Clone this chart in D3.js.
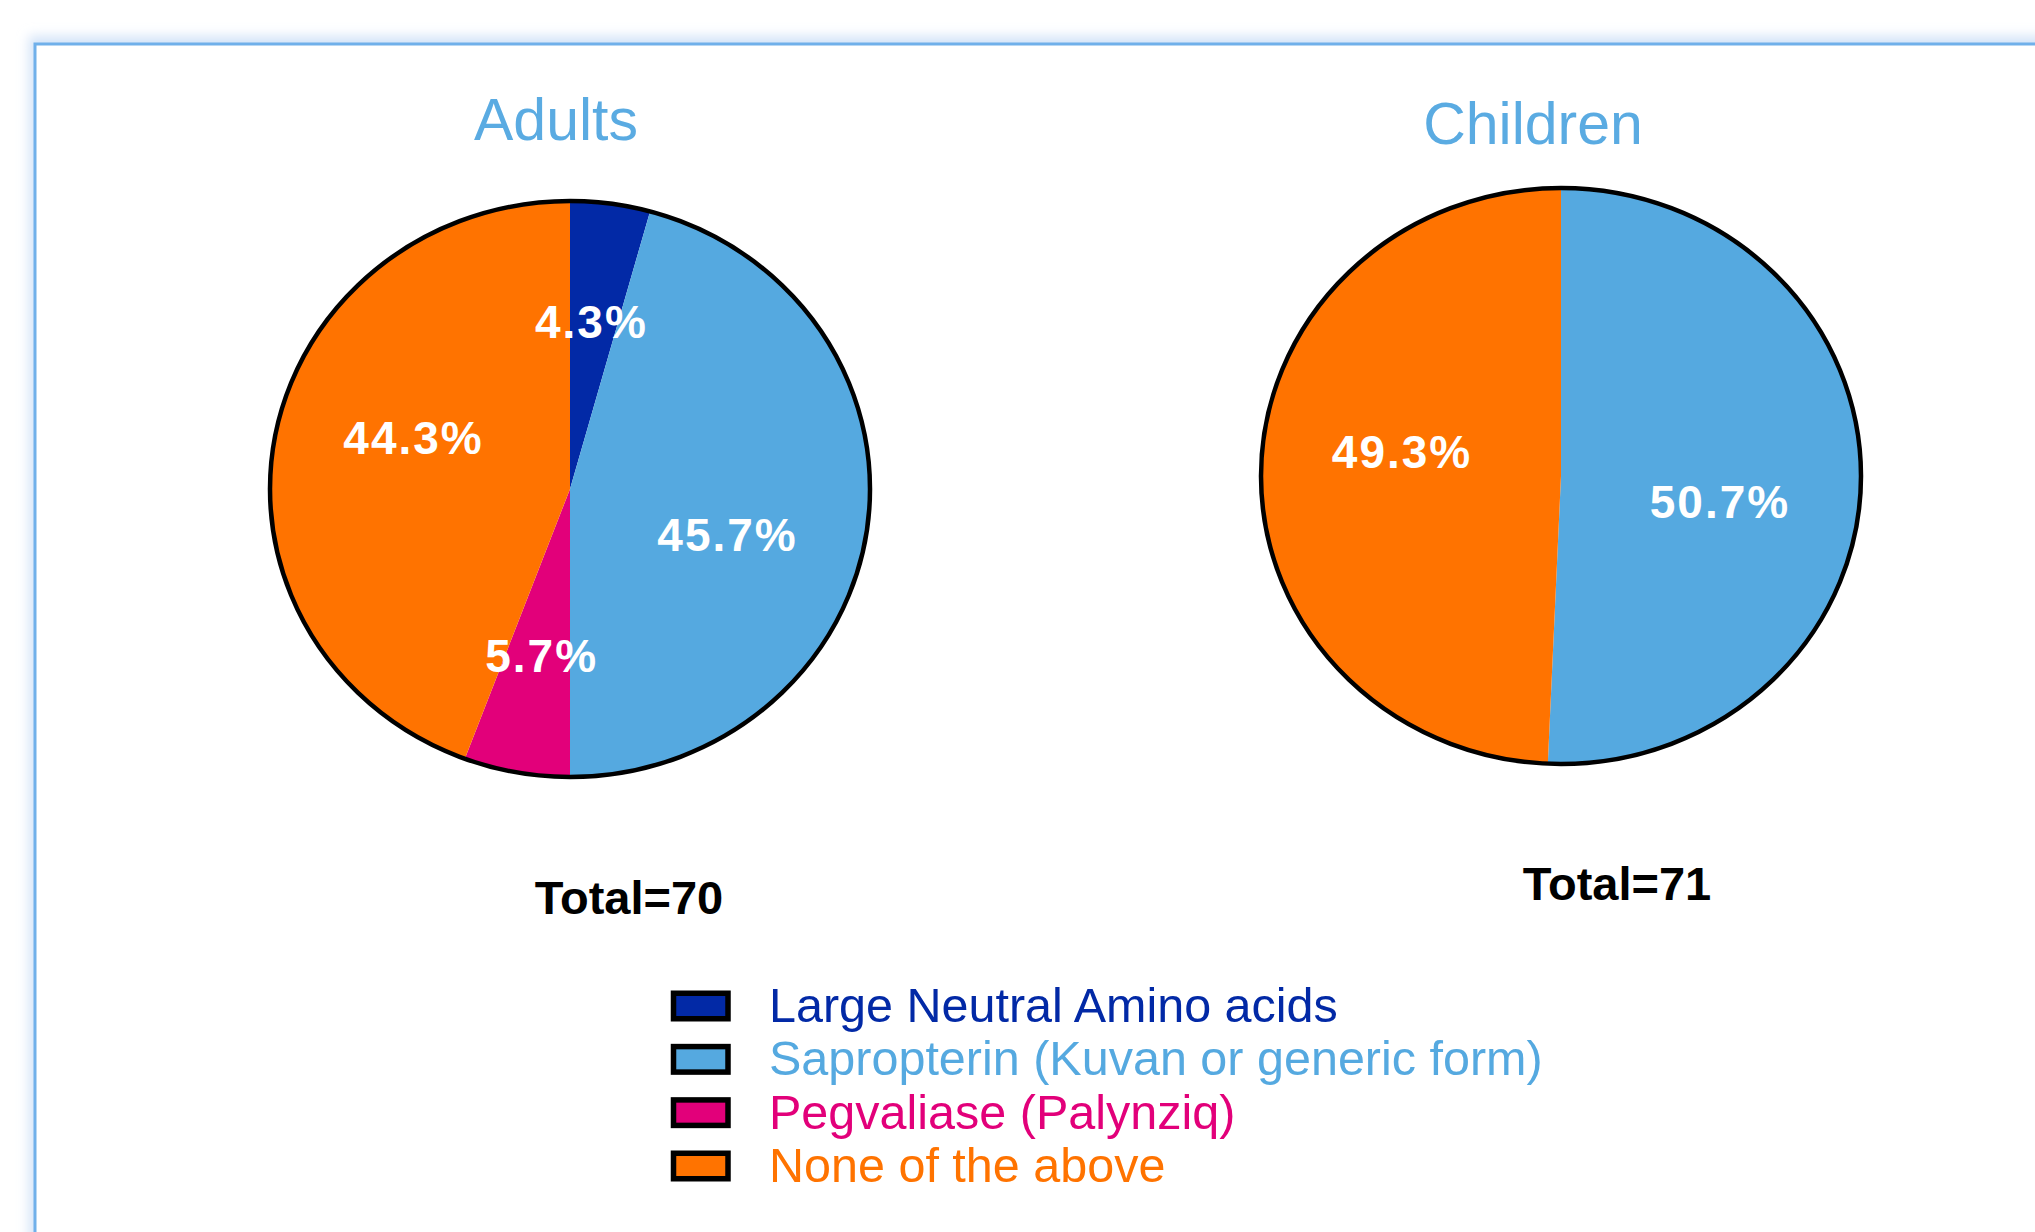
<!DOCTYPE html>
<html>
<head>
<meta charset="utf-8">
<script src="https://cdn.jsdelivr.net/npm/d3@7"></script>
<style>
  html, body { margin: 0; padding: 0; background: #fff; }
  svg { display: block; }
</style>
</head>
<body>
<svg id="chart"></svg>
<script>
const WIDTH = 2035;
const HEIGHT = 1232;

const CATEGORIES = ["Large Neutral Amino acids", "Sapropterin (Kuvan or generic form)",
                    "Pegvaliase (Palynziq)", "None of the above"];
const COLORS = ["#0229a6", "#55a9e0", "#e2007a", "#ff7300"];

const GROUPS = ["Adults", "Children"];
const ADULTS_VALUES = [4.3, 45.7, 5.7, 44.3];
const CHILDREN_VALUES = [0, 50.7, 0, 49.3];
const TOTALS = [70, 71];

// layout per pie (center, title, total label)
const LAYOUT = [
  { cx: 570, cy: 489, titleX: 556, titleY: 140, totalX: 629, totalY: 914 },
  { cx: 1561, cy: 476, titleX: 1533, titleY: 144, totalX: 1617, totalY: 900 }
];
const RX = 300, RY = 288;
const LABEL_RX = 0.53;
const LABEL_RY = 0.6;
const LABEL_SKEW = 0.12;   // labels sit a bit lower on the right, higher on the left

const svg = d3.select('#chart')
              .attr('width', WIDTH)
              .attr('height', HEIGHT);

// frame with soft shadow
const defs = svg.append('defs');
defs.append('filter').attr('id', 'blur')
    .attr('x', '-10%').attr('y', '-10%').attr('width', '120%').attr('height', '120%')
    .append('feGaussianBlur').attr('stdDeviation', 6);

svg.append('rect')
   .attr('x', 29).attr('y', 36).attr('width', 2100).attr('height', 1400)
   .attr('fill', '#d3e3f8')
   .attr('filter', 'url(#blur)');
svg.append('rect')
   .attr('x', 35).attr('y', 44).attr('width', 2100).attr('height', 1400)
   .attr('fill', '#fff')
   .attr('stroke', '#70b0ea')
   .attr('stroke-width', 3);

const colorScale = d3.scaleOrdinal(CATEGORIES, COLORS);
const pie = d3.pie().sort(null).value(d => d.value);
const arc = d3.arc().innerRadius(0).outerRadius(RX);

function labelPos(d) {
  const a = (d.startAngle + d.endAngle) / 2;
  const s = Math.sin(a), c = Math.cos(a);
  const x = s * RX * LABEL_RX;
  const y = -c * RY * LABEL_RY + s * RX * LABEL_RY * LABEL_SKEW;
  return [x, y];
}

[ADULTS_VALUES, CHILDREN_VALUES].forEach((values, gi) => {
  const lay = LAYOUT[gi];
  const data = values.map((v, i) => ({ category: CATEGORIES[i], value: v }));
  const arcs = pie(data);

  const g = svg.append('g').attr('transform', `translate(${lay.cx},${lay.cy})`);

  // slices drawn on a circle, squashed to the ellipse
  const slices = g.append('g').attr('transform', `scale(1,${RY / RX})`);
  slices.selectAll('path')
        .data(arcs.filter(d => d.value > 0))
        .enter().append('path')
        .attr('d', arc)
        .attr('fill', d => colorScale(d.data.category));

  g.append('ellipse')
   .attr('rx', RX).attr('ry', RY)
   .attr('fill', 'none')
   .attr('stroke', '#000')
   .attr('stroke-width', 4.5);

  // percentage labels
  g.selectAll('text.pct')
   .data(arcs.filter(d => d.value > 0))
   .enter().append('text')
   .attr('class', 'pct')
   .attr('x', d => labelPos(d)[0])
   .attr('y', d => labelPos(d)[1] + 17)
   .attr('text-anchor', 'middle')
   .style('font-family', '"Liberation Sans", Arial, sans-serif')
   .style('font-weight', 'bold')
   .style('font-size', '46px')
   .style('letter-spacing', '2px')
   .style('fill', '#fff')
   .text(d => d.value.toFixed(1) + '%');

  svg.append('text')
     .attr('x', lay.titleX).attr('y', lay.titleY)
     .attr('text-anchor', 'middle')
     .style('font-family', '"Liberation Sans", Arial, sans-serif')
     .style('font-size', '59px')
     .style('fill', '#5aabe2')
     .text(GROUPS[gi]);

  svg.append('text')
     .attr('x', lay.totalX).attr('y', lay.totalY)
     .attr('text-anchor', 'middle')
     .style('font-family', '"Liberation Sans", Arial, sans-serif')
     .style('font-weight', 'bold')
     .style('font-size', '47px')
     .style('fill', '#000')
     .text('Total=' + TOTALS[gi]);
});

// legend
const legendY = d3.scalePoint().domain(CATEGORIES).range([1006, 1166]);
const legend = svg.append('g');
const item = legend.selectAll('g')
                   .data(CATEGORIES)
                   .enter().append('g')
                   .attr('transform', d => `translate(0,${legendY(d)})`);

item.append('rect')
    .attr('x', 673.5).attr('y', -12.75)
    .attr('width', 54.5).attr('height', 25.5)
    .attr('fill', d => colorScale(d))
    .attr('stroke', '#000')
    .attr('stroke-width', 5.5);

item.append('text')
    .attr('x', 769).attr('y', 16)
    .style('font-family', '"Liberation Sans", Arial, sans-serif')
    .style('font-size', '48.5px')
    .style('fill', d => colorScale(d))
    .text(d => d);
</script>
</body>
</html>
